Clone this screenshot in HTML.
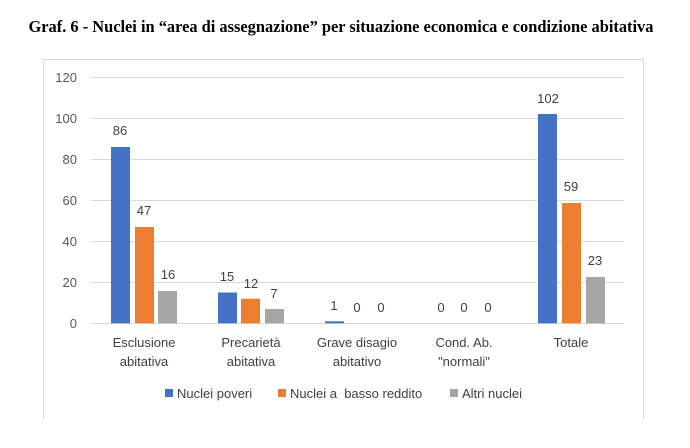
<!DOCTYPE html>
<html><head><meta charset="utf-8"><style>
html,body{margin:0;padding:0;background:#fff;width:690px;height:448px;overflow:hidden}
svg text{font-family:"Liberation Sans","DejaVu Sans",sans-serif}
</style></head><body>
<svg width="690" height="448" xmlns="http://www.w3.org/2000/svg">
<text x="341" y="32" text-anchor="middle" style="font-family:'Liberation Serif',serif;font-weight:bold;font-size:16.4px" fill="#000">Graf. 6 - Nuclei in “area di assegnazione” per situazione economica e condizione abitativa</text>
<path d="M43.5 419 V59.5 H643.5 V419" fill="none" stroke="#d9d9d9"/>
<g stroke="#d9d9d9" stroke-width="1">
<line x1="91" x2="624" y1="77.5" y2="77.5"/>
<line x1="91" x2="624" y1="118.5" y2="118.5"/>
<line x1="91" x2="624" y1="159.5" y2="159.5"/>
<line x1="91" x2="624" y1="200.5" y2="200.5"/>
<line x1="91" x2="624" y1="241.5" y2="241.5"/>
<line x1="91" x2="624" y1="282.5" y2="282.5"/>
<line x1="91" x2="624" y1="323.5" y2="323.5"/>
</g>
<g font-size="13" fill="#595959" text-anchor="end">
<text x="77" y="82">120</text><text x="77" y="123">100</text><text x="77" y="164">80</text><text x="77" y="205">60</text><text x="77" y="246">40</text><text x="77" y="287">20</text><text x="77" y="328">0</text>
</g>
<g>
<rect x="111" y="147" width="19" height="176.3" fill="#4472c4"/>
<rect x="135" y="227" width="19" height="96.3" fill="#ed7d31"/>
<rect x="158" y="291" width="19" height="32.3" fill="#a5a5a5"/>
<rect x="218" y="292.5" width="19" height="30.8" fill="#4472c4"/>
<rect x="241" y="298.7" width="19" height="24.6" fill="#ed7d31"/>
<rect x="265" y="309" width="19" height="14.3" fill="#a5a5a5"/>
<rect x="325" y="321.3" width="19" height="2" fill="#4472c4"/>
<rect x="538" y="114" width="19" height="209.3" fill="#4472c4"/>
<rect x="562" y="203" width="19" height="120.3" fill="#ed7d31"/>
<rect x="586" y="277" width="19" height="46.3" fill="#a5a5a5"/>
</g>
<g font-size="13" fill="#404040" text-anchor="middle">
<text x="120" y="135">86</text><text x="144" y="215">47</text><text x="168" y="279">16</text>
<text x="227" y="281">15</text><text x="251" y="288">12</text><text x="274" y="298">7</text>
<text x="334" y="310">1</text><text x="357" y="312">0</text><text x="381" y="312">0</text>
<text x="441" y="312">0</text><text x="464" y="312">0</text><text x="488" y="312">0</text>
<text x="548" y="103">102</text><text x="571" y="191">59</text><text x="595" y="265">23</text>
</g>
<g font-size="13" fill="#404040" text-anchor="middle">
<text x="144" y="347">Esclusione</text><text x="144" y="366">abitativa</text>
<text x="251" y="347">Precarietà</text><text x="251" y="366">abitativa</text>
<text x="357" y="347">Grave disagio</text><text x="357" y="366">abitativo</text>
<text x="464" y="347">Cond. Ab.</text><text x="464" y="366">"normali"</text>
<text x="571" y="347">Totale</text>
</g>
<g font-size="13" fill="#404040">
<rect x="165" y="389" width="8" height="8" fill="#4472c4"/><text x="177" y="398">Nuclei poveri</text>
<rect x="278" y="389" width="8" height="8" fill="#ed7d31"/><text x="290" y="398" xml:space="preserve">Nuclei a  basso reddito</text>
<rect x="450" y="389" width="8" height="8" fill="#a5a5a5"/><text x="462" y="398">Altri nuclei</text>
</g>
</svg>
</body></html>
